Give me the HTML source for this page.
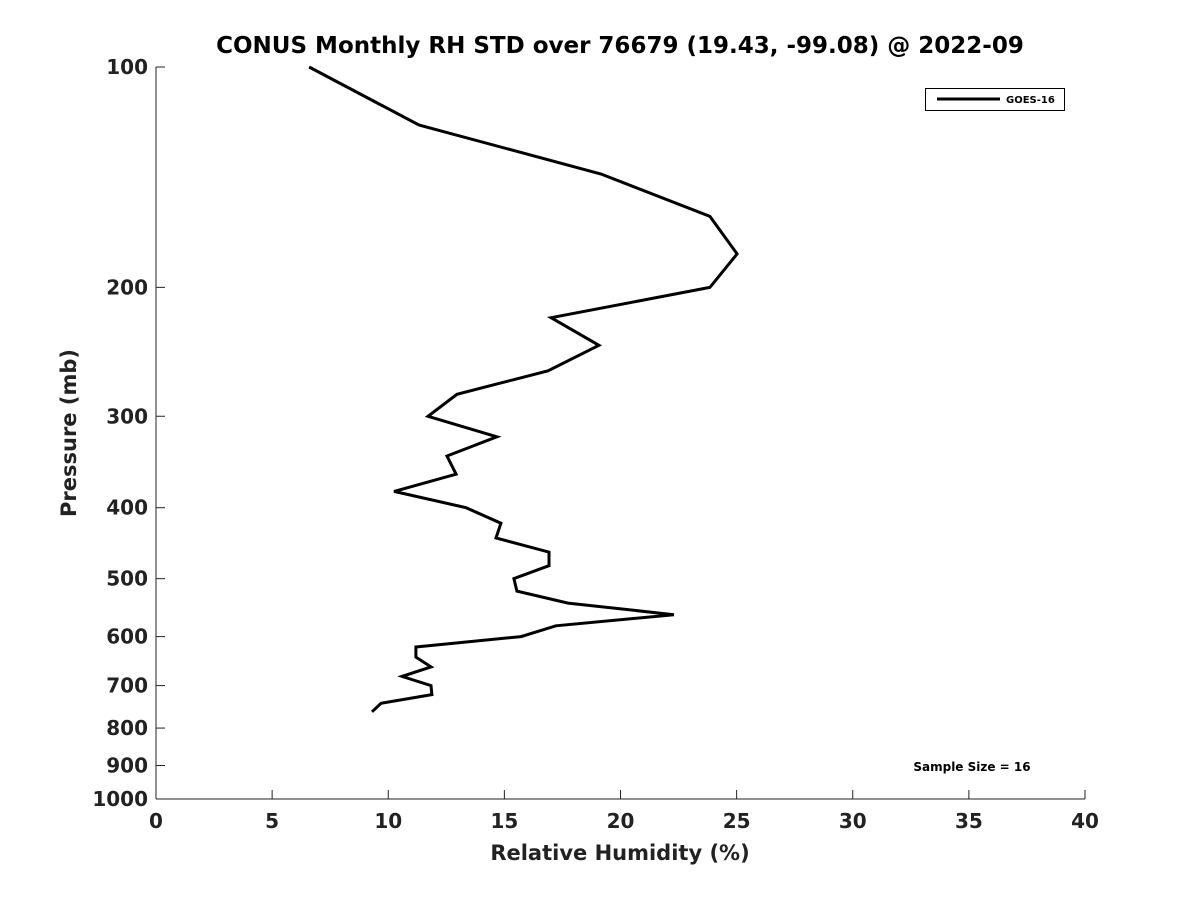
<!DOCTYPE html>
<html><head><meta charset="utf-8"><style>
html,body{margin:0;padding:0;background:#fff;}
svg{display:block;font-family:"DejaVu Sans","Liberation Sans",sans-serif;}
</style></head><body>
<svg id="chart" width="1200" height="900" viewBox="0 0 1200 900">
<rect x="0" y="0" width="1200" height="900" fill="#fff"/>
<text x="620" y="53" text-anchor="middle" font-size="23" font-weight="bold" fill="#000">CONUS Monthly RH STD over 76679 (19.43, -99.08) @ 2022-09</text>
<g id="axes"></g>
<path id="series" fill="none" stroke="#000" stroke-width="3" stroke-linejoin="miter"/>
<g>
<rect x="925.5" y="88.5" width="139" height="22" fill="#fff" stroke="#000" stroke-width="1"/>
<line x1="937" y1="99" x2="1000" y2="99" stroke="#000" stroke-width="3"/>
<text x="1006" y="103" font-size="10" font-weight="bold">GOES-16</text>
</g>
<text x="972" y="771" text-anchor="middle" font-size="12" font-weight="bold">Sample Size = 16</text>
<text x="620" y="860" text-anchor="middle" font-size="21" font-weight="bold" fill="#222">Relative Humidity (%)</text>
<text transform="translate(76,433) rotate(-90)" text-anchor="middle" font-size="21" font-weight="bold" fill="#222">Pressure (mb)</text>
</svg>
<script>
const rhValues=[6.59,11.32,19.16,23.85,25.02,23.85,17.01,19.07,16.88,12.96,11.71,14.68,12.53,12.92,10.25,13.35,14.85,14.64,16.92,16.92,15.41,15.54,17.74,22.30,17.22,15.72,11.19,11.19,11.84,10.59,11.84,11.88,9.69,9.30];
const pressures=[100,120,140,160,180,200,220,240,260,280,300,320,340,360,380,400,420,440,460,480,500,520,540,560,580,600,620,640,660,680,700,720,740,760];
const xTicks=[0,5,10,15,20,25,30,35,40];
const yTicks=[100,200,300,400,500,600,700,800,900,1000];
const X0=156,X1=1085,Y0=67,Y1=799;
function xs(v){return X0+(v-0)/(40-0)*(X1-X0);}
function ys(p){return Y0+(Math.log10(p)-2)/(1)*(Y1-Y0);}
const NS="http://www.w3.org/2000/svg";
const ax=document.getElementById('axes');
function mk(tag,attrs,parent){const e=document.createElementNS(NS,tag);for(const k in attrs)e.setAttribute(k,attrs[k]);parent.appendChild(e);return e;}
const yl=mk('line',{x1:X0,y1:Y0,x2:X0,y2:Y1,stroke:'#222','stroke-width':1},ax);


const xl=mk('line',{x1:X0,y1:Y1,x2:X1,y2:Y1,stroke:'#222','stroke-width':1},ax);


xTicks.forEach(t=>{
 const x=xs(t);
 const l=mk('line',{x1:x,y1:Y1,x2:x,y2:Y1-9,stroke:'#222','stroke-width':1},ax);
 
 
 const tx=mk('text',{x:x,y:Y1+29,'text-anchor':'middle','font-size':20,'font-weight':'bold',fill:'#222'},ax);
 tx.textContent=t;
 
 
});
yTicks.forEach(t=>{
 const y=ys(t);
 const l=mk('line',{x1:X0,y1:y,x2:X0+9,y2:y,stroke:'#222','stroke-width':1},ax);
 
 
 const tx=mk('text',{x:X0-8,y:y+7,'text-anchor':'end','font-size':20,'font-weight':'bold',fill:'#222'},ax);
 tx.textContent=t;
 
 
});
document.getElementById('series').setAttribute('d',rhValues.map((v,i)=>(i?'L':'M')+xs(v).toFixed(1)+','+ys(pressures[i]).toFixed(1)).join(''));
</script>
</body></html>
